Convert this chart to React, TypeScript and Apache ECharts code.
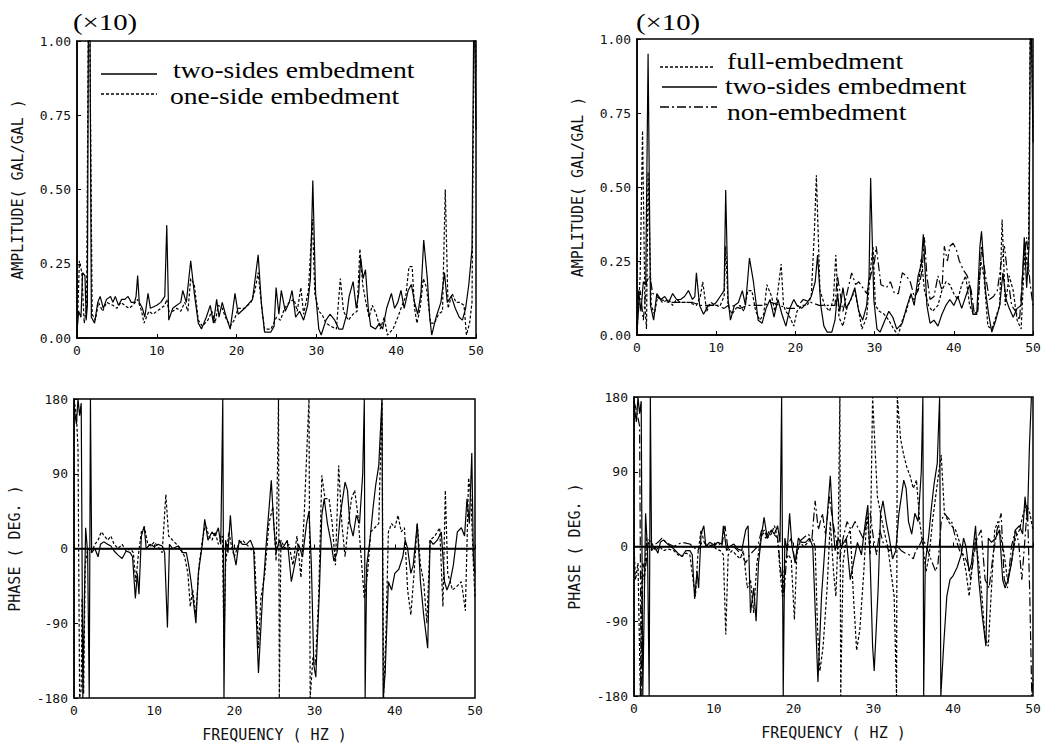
import React, { useEffect, useRef } from "react";
import * as echarts from "echarts";

// ---------- data (frequency Hz, value) ----------
const ampTwoSidesL = [[0,0.02],[0.2,0.09],[0.5,0.07],[0.7,0.22],[1.0,0.21],[1.15,0.06],[1.3,0.11],[1.45,1.2],[1.6,1.2],[1.8,0.07],[2.2,0.05],[2.6,0.12],[2.9,0.14],[3.3,0.1],[3.7,0.13],[4.2,0.14],[4.5,0.12],[4.8,0.14],[5.2,0.11],[5.6,0.13],[6.0,0.13],[6.4,0.14],[6.8,0.12],[7.2,0.12],[7.4,0.14],[7.6,0.21],[7.8,0.12],[8.2,0.1],[8.5,0.07],[8.9,0.15],[9.2,0.1],[10,0.11],[10.5,0.12],[11,0.14],[11.25,0.38],[11.5,0.06],[12,0.1],[12.5,0.11],[13,0.12],[13.25,0.16],[13.7,0.12],[14.25,0.26],[14.7,0.15],[15.2,0.05],[15.6,0.03],[16.2,0.07],[16.7,0.11],[17.1,0.05],[17.5,0.13],[17.8,0.07],[18.2,0.12],[18.6,0.08],[19.2,0.03],[19.8,0.15],[20.2,0.08],[21,0.1],[22,0.13],[22.7,0.28],[23.1,0.12],[23.5,0.02],[24.3,0.02],[24.7,0.04],[24.95,0.17],[25.3,0.08],[25.6,0.16],[26.1,0.09],[26.6,0.12],[26.95,0.16],[27.4,0.07],[27.9,0.09],[28.4,0.06],[28.9,0.11],[29.25,0.2],[29.55,0.53],[29.9,0.15],[30.3,0.03],[30.6,0.01],[31.2,0.06],[31.7,0.08],[32.3,0.06],[32.8,0.03],[33.3,0.03],[33.8,0.08],[34.1,0.14],[34.6,0.19],[35.0,0.1],[35.3,0.15],[35.55,0.27],[35.85,0.2],[36.15,0.23],[36.5,0.1],[36.8,0.04],[37.4,0.03],[37.9,0.05],[38.3,0.03],[38.8,0.1],[39.4,0.15],[39.8,0.1],[40.2,0.12],[40.6,0.16],[41.0,0.1],[41.5,0.16],[41.9,0.18],[42.3,0.12],[42.7,0.08],[43.1,0.15],[43.45,0.33],[43.9,0.2],[44.2,0.07],[44.45,0.01],[45.0,0.07],[45.6,0.12],[46.05,0.22],[46.4,0.12],[46.9,0.14],[47.4,0.1],[47.9,0.07],[48.3,0.06],[48.7,0.1],[49.1,0.18],[49.5,0.3],[49.75,1.2],[50,0.7]];
const ampOneSideL = [[0,0.0],[0.3,0.26],[0.6,0.22],[0.9,0.05],[1.2,0.1],[1.45,1.2],[1.55,1.2],[1.9,0.08],[2.3,0.06],[2.7,0.12],[3.2,0.09],[3.7,0.12],[4.5,0.11],[5.0,0.1],[5.5,0.12],[6.0,0.11],[6.5,0.1],[7.0,0.11],[7.6,0.13],[8.1,0.09],[8.4,0.05],[9.0,0.09],[9.5,0.08],[10,0.09],[10.5,0.1],[11.0,0.11],[11.25,0.13],[11.5,0.09],[12,0.09],[12.5,0.1],[13,0.09],[13.5,0.12],[13.9,0.09],[14.25,0.2],[14.7,0.18],[15.2,0.06],[15.7,0.04],[16.4,0.06],[16.9,0.09],[17.3,0.05],[17.7,0.11],[18.2,0.1],[18.6,0.07],[19.2,0.04],[19.7,0.06],[20.2,0.1],[21,0.1],[21.8,0.12],[22.3,0.16],[22.7,0.22],[23.2,0.09],[23.5,0.03],[24.3,0.03],[25,0.07],[25.5,0.06],[26,0.1],[26.6,0.12],[27.2,0.13],[27.6,0.09],[28.05,0.17],[28.4,0.08],[29.0,0.16],[29.5,0.4],[29.8,0.15],[30.3,0.09],[30.7,0.08],[31.2,0.05],[31.8,0.04],[32.5,0.03],[33.0,0.2],[33.4,0.09],[34.0,0.06],[34.6,0.08],[35.1,0.09],[35.45,0.3],[35.8,0.18],[36.2,0.12],[36.6,0.07],[37.0,0.11],[37.5,0.08],[38.0,0.03],[38.5,0.07],[38.9,0.01],[39.6,0.03],[40.2,0.07],[40.6,0.1],[41.2,0.14],[41.6,0.24],[42.0,0.24],[42.3,0.1],[42.6,0.05],[43.0,0.1],[43.4,0.2],[43.8,0.17],[44.3,0.05],[44.8,0.05],[45.3,0.08],[45.8,0.09],[46.15,0.5],[46.5,0.1],[47.0,0.15],[47.5,0.12],[48.0,0.12],[48.5,0.11],[48.8,0.01],[49.2,0.05],[49.5,0.12],[49.8,1.2],[50,0.9]];

const ampTwoSidesR = [[0,0.0],[0.2,0.15],[0.5,0.08],[0.8,0.18],[1.1,0.17],[1.4,0.95],[1.7,0.1],[2.1,0.05],[2.5,0.14],[3.0,0.12],[3.5,0.13],[4.0,0.11],[4.5,0.14],[5.0,0.12],[5.5,0.12],[6.0,0.13],[6.5,0.15],[7.0,0.12],[7.3,0.13],[7.5,0.21],[7.9,0.1],[8.4,0.07],[9.0,0.1],[9.5,0.1],[10.0,0.11],[10.5,0.13],[11.0,0.15],[11.2,0.49],[11.5,0.12],[11.8,0.05],[12.3,0.1],[12.8,0.11],[13.3,0.15],[13.7,0.1],[14.2,0.26],[14.7,0.18],[15.3,0.05],[15.8,0.04],[16.3,0.09],[16.8,0.12],[17.3,0.06],[17.8,0.12],[18.3,0.07],[18.8,0.03],[19.3,0.09],[19.8,0.12],[20.2,0.1],[20.8,0.09],[21.5,0.11],[22.0,0.13],[22.5,0.18],[22.8,0.27],[23.2,0.1],[23.6,0.03],[24.0,0.01],[24.6,0.01],[25.0,0.05],[25.3,0.14],[25.6,0.08],[26.0,0.16],[26.4,0.09],[27.0,0.12],[27.5,0.16],[28.0,0.08],[28.5,0.05],[29.0,0.1],[29.3,0.2],[29.5,0.53],[29.9,0.12],[30.3,0.02],[30.7,0.01],[31.3,0.05],[31.8,0.08],[32.3,0.06],[32.8,0.02],[33.5,0.04],[34.0,0.09],[34.6,0.14],[35.0,0.1],[35.5,0.2],[35.9,0.24],[36.15,0.34],[36.6,0.1],[37.0,0.04],[37.5,0.05],[38.0,0.03],[38.5,0.07],[39.0,0.1],[39.5,0.12],[40.0,0.1],[40.5,0.13],[41.0,0.09],[41.5,0.13],[42.0,0.17],[42.4,0.07],[42.9,0.07],[43.3,0.3],[43.5,0.35],[44.0,0.15],[44.4,0.07],[44.8,0.01],[45.3,0.05],[45.8,0.1],[46.2,0.21],[46.6,0.12],[47.0,0.09],[47.5,0.06],[48.0,0.09],[48.5,0.1],[48.9,0.33],[49.2,0.16],[49.5,0.3],[49.7,1.2],[50,0.65]];
const ampFullR = [[0,0.0],[0.4,0.2],[0.7,0.69],[1.0,0.1],[1.2,0.02],[1.4,0.55],[1.8,0.1],[2.2,0.07],[2.6,0.13],[3.2,0.11],[4.0,0.12],[4.5,0.1],[5.0,0.12],[5.5,0.11],[6.5,0.11],[7.5,0.1],[8.0,0.13],[8.3,0.18],[8.8,0.08],[9.3,0.11],[10,0.1],[10.5,0.1],[11.0,0.13],[11.2,0.3],[11.5,0.1],[12.0,0.07],[12.5,0.09],[13.0,0.1],[13.5,0.08],[14.0,0.15],[14.5,0.15],[15.0,0.08],[15.5,0.05],[16.0,0.07],[16.4,0.17],[17.0,0.13],[17.4,0.08],[17.8,0.15],[18.2,0.24],[18.5,0.1],[18.8,0.08],[19.3,0.06],[19.8,0.03],[20.2,0.08],[20.8,0.1],[21.5,0.1],[22.0,0.13],[22.4,0.35],[22.65,0.54],[23.1,0.15],[23.7,0.1],[24.3,0.08],[24.8,0.12],[25.1,0.27],[25.5,0.06],[26.0,0.03],[26.5,0.09],[27.0,0.12],[27.5,0.15],[28.0,0.08],[28.4,0.02],[29.0,0.06],[29.4,0.2],[29.8,0.3],[30.1,0.1],[30.6,0.08],[31.2,0.07],[31.8,0.05],[32.4,0.02],[33.0,0.0],[33.5,0.05],[34.0,0.08],[34.5,0.13],[35.0,0.12],[35.5,0.16],[35.9,0.26],[36.3,0.15],[36.8,0.1],[37.3,0.08],[38.0,0.1],[38.5,0.15],[39.0,0.18],[39.5,0.17],[40.0,0.14],[40.5,0.12],[41.0,0.17],[41.5,0.2],[42.0,0.1],[42.5,0.07],[43.0,0.08],[43.4,0.25],[43.8,0.2],[44.3,0.03],[44.8,0.02],[45.3,0.06],[45.8,0.1],[46.1,0.39],[46.5,0.1],[47.0,0.2],[47.5,0.15],[48.0,0.05],[48.5,0.02],[49.0,0.3],[49.4,0.2],[49.7,1.2],[50,0.7]];
const ampNonR = [[0,0.02],[0.4,0.15],[0.8,0.05],[1.2,0.18],[1.6,0.2],[2.0,0.14],[3,0.12],[4,0.11],[5,0.11],[6,0.11],[7,0.11],[8,0.1],[9,0.1],[10,0.1],[11,0.09],[11.5,0.1],[12,0.1],[13,0.09],[14,0.1],[15,0.1],[16,0.1],[17,0.11],[18,0.1],[19,0.09],[20,0.09],[21,0.12],[22,0.11],[23,0.1],[24,0.1],[25,0.1],[25.3,0.2],[25.6,0.15],[26,0.08],[26.5,0.14],[27.1,0.21],[27.6,0.17],[28.0,0.18],[28.5,0.16],[29.0,0.14],[29.5,0.2],[30.0,0.25],[30.2,0.3],[30.8,0.17],[31.5,0.16],[32.0,0.18],[32.5,0.14],[33.0,0.14],[33.5,0.21],[34.0,0.2],[34.5,0.18],[35.0,0.13],[35.5,0.15],[36.0,0.22],[36.3,0.33],[36.6,0.2],[37.0,0.12],[37.5,0.13],[38.0,0.2],[38.5,0.15],[38.8,0.3],[39.2,0.25],[39.5,0.3],[39.9,0.31],[40.3,0.29],[40.7,0.25],[41.2,0.22],[41.7,0.2],[42.2,0.15],[42.6,0.07],[43.0,0.07],[43.5,0.3],[44.0,0.2],[44.5,0.12],[45.0,0.13],[45.5,0.15],[46.0,0.25],[46.4,0.3],[46.8,0.2],[47.3,0.1],[47.8,0.08],[48.3,0.05],[48.8,0.25],[49.2,0.33],[49.6,0.18],[50,0.1]];

const phTwoSidesL = [[0,170],[0.3,150],[0.5,180],[0.7,160],[0.9,175],[1.1,-180],[1.3,-60],[1.45,25],[1.7,-5],[1.9,-180],[2.05,180],[2.2,-5],[2.6,0],[3.0,-10],[3.3,5],[3.7,8],[4.2,5],[4.6,3],[5.0,-3],[5.5,-8],[6.0,-12],[6.5,-3],[7.0,-5],[7.3,-10],[7.65,-60],[7.9,-30],[8.1,-55],[8.4,15],[8.75,27],[9.0,0],[9.5,5],[10,2],[10.5,5],[11.0,3],[11.3,-5],[11.65,-95],[11.9,5],[12.3,0],[13.0,3],[13.5,-5],[14.0,-5],[14.3,-20],[14.6,-40],[15.2,-90],[15.5,-30],[16.0,5],[16.3,35],[16.7,10],[17.2,20],[17.6,15],[18.0,25],[18.3,5],[18.55,180],[18.7,-180],[18.9,10],[19.2,-5],[19.5,40],[19.8,0],[20.2,-20],[20.6,10],[21.0,5],[21.5,5],[22.0,10],[22.4,0],[22.8,-100],[23.0,-150],[23.5,-60],[24.0,10],[24.6,82],[24.9,30],[25.2,-5],[25.6,10],[26.0,0],[26.6,10],[27.1,-40],[27.5,-20],[28.0,5],[28.5,-10],[29.0,30],[29.3,45],[29.6,-20],[29.9,-140],[30.15,-155],[30.6,-50],[30.9,40],[31.2,60],[31.6,30],[32.0,10],[32.4,-15],[32.8,-5],[33.2,40],[33.8,80],[34.1,70],[34.4,30],[34.8,15],[35.2,40],[35.6,30],[36.0,90],[36.2,180],[36.3,-180],[36.5,-20],[36.9,10],[37.3,50],[37.6,75],[38.0,100],[38.4,180],[38.55,-180],[38.8,-150],[39.2,-40],[39.6,-50],[40.0,-30],[40.5,-25],[41.0,-10],[41.3,10],[41.6,0],[42.0,-30],[42.3,-20],[42.8,30],[43.2,-40],[43.6,-80],[44.1,-120],[44.4,10],[44.8,5],[45.3,10],[45.8,20],[46.2,-40],[46.5,-50],[46.9,-40],[47.3,-20],[47.8,20],[48.3,25],[48.7,15],[49.0,60],[49.3,30],[49.6,115],[49.8,-10],[50,-30]];
const phOneSideL = [[0,180],[0.3,160],[0.5,120],[0.7,-180],[0.9,-170],[1.0,-60],[1.2,-175],[1.4,-20],[1.7,0],[2.2,-5],[2.6,5],[3.0,10],[3.4,20],[3.8,15],[4.2,10],[4.6,15],[5.0,5],[5.5,0],[6.0,5],[6.5,-3],[7.0,0],[7.4,-5],[7.7,-40],[8.0,-10],[8.4,20],[8.8,25],[9.2,5],[9.6,3],[10.0,8],[10.5,2],[11.0,-5],[11.45,65],[11.8,15],[12.3,10],[12.8,5],[13.3,0],[13.8,-10],[14.2,-30],[14.5,-70],[14.8,-50],[15.2,-80],[15.6,-20],[16.0,10],[16.4,30],[16.8,15],[17.2,10],[17.6,20],[18.0,5],[18.5,15],[18.7,-120],[18.9,-20],[19.3,20],[19.7,0],[20.0,-10],[20.5,5],[21.0,10],[21.5,5],[22.0,0],[22.5,-5],[23.0,-120],[23.3,-60],[23.8,-30],[24.3,30],[24.8,50],[25.2,-15],[25.5,180],[25.6,-180],[25.8,10],[26.3,0],[26.8,5],[27.3,-20],[27.8,15],[28.3,-35],[28.7,40],[29.3,180],[29.45,-180],[29.8,-130],[30.1,-140],[30.5,-60],[30.9,88],[31.3,60],[31.8,60],[32.2,30],[32.6,-20],[33.0,100],[33.4,30],[33.8,-10],[34.2,30],[34.6,60],[35.0,70],[35.4,40],[35.8,-10],[36.2,-60],[36.6,-30],[37.0,20],[37.5,25],[38.0,30],[38.4,180],[38.6,-180],[38.9,-100],[39.2,20],[39.6,30],[40.0,25],[40.4,40],[40.8,20],[41.2,25],[41.6,-50],[42.0,-80],[42.4,-30],[42.8,30],[43.2,-20],[43.6,-40],[44.0,-90],[44.4,10],[45.0,15],[45.6,25],[46.0,-70],[46.3,70],[46.6,-30],[47.2,-50],[47.8,-45],[48.3,-40],[48.8,-75],[49.2,85],[49.5,60],[49.8,-20],[50,-60]];

const phTwoSidesR = [[0,170],[0.3,150],[0.5,180],[0.7,160],[0.9,175],[1.1,-180],[1.3,-60],[1.45,40],[1.7,-5],[1.9,-180],[2.05,180],[2.2,-5],[2.6,0],[3.0,-8],[3.3,5],[3.7,8],[4.2,3],[4.6,0],[5.0,-3],[5.5,-8],[6.0,-12],[6.5,-5],[7.0,-5],[7.3,-10],[7.6,-63],[7.9,-30],[8.1,-50],[8.4,15],[8.75,25],[9.0,0],[9.5,5],[10,2],[10.5,5],[11.0,3],[11.2,25],[11.6,-5],[12.0,0],[12.5,3],[13.0,-3],[13.5,-5],[14.0,20],[14.3,25],[14.6,-80],[15.0,-50],[15.3,-90],[15.6,-20],[16.0,15],[16.3,35],[16.7,10],[17.2,20],[17.6,15],[18.0,25],[18.3,5],[18.5,180],[18.7,-180],[18.9,10],[19.2,-5],[19.5,40],[19.8,0],[20.2,-20],[20.6,10],[21.0,5],[21.5,5],[22.0,10],[22.4,0],[22.8,-100],[23.05,-163],[23.5,-60],[24.0,10],[24.6,85],[24.9,30],[25.2,-5],[25.6,10],[26.0,0],[26.6,10],[27.1,-40],[27.5,-20],[28.0,5],[28.5,-10],[29.0,30],[29.3,50],[29.6,-20],[29.9,-120],[30.1,-150],[30.6,-50],[30.9,40],[31.2,55],[31.6,30],[32.0,10],[32.4,-15],[32.8,-5],[33.2,40],[33.8,80],[34.1,70],[34.4,30],[34.8,15],[35.2,40],[35.6,30],[36.0,90],[36.2,180],[36.3,-180],[36.5,-20],[36.9,10],[37.3,50],[37.6,75],[38.0,100],[38.3,180],[38.45,-180],[38.8,-120],[39.2,-60],[39.6,-40],[40.0,-35],[40.5,-25],[41.0,-10],[41.3,10],[41.6,0],[42.0,-30],[42.3,-20],[42.8,25],[43.2,-40],[43.6,-80],[44.1,-120],[44.4,10],[44.8,5],[45.3,10],[45.8,20],[46.2,-40],[46.5,-50],[46.9,-40],[47.3,-20],[47.8,20],[48.3,25],[48.7,15],[49.0,60],[49.3,30],[49.55,120],[49.8,180]];
const phFullR = [[0,0],[0.2,-40],[0.5,-20],[0.8,-180],[1.0,-30],[1.3,-40],[1.6,10],[2.2,5],[2.7,-5],[3.2,0],[3.7,-5],[4.2,-3],[5,-5],[5.5,-10],[6.0,-12],[6.5,-8],[7.0,-10],[7.4,-40],[7.7,-60],[8.0,-10],[8.4,20],[8.8,5],[9.3,0],[9.8,2],[10.3,-3],[10.8,-5],[11.2,-10],[11.5,-106],[11.8,-10],[12.3,-5],[12.8,-10],[13.3,-15],[13.7,-5],[14.2,-50],[14.6,-40],[15.0,-80],[15.4,-20],[15.9,10],[16.3,20],[16.7,10],[17.2,15],[17.6,25],[18.0,10],[18.3,-30],[18.6,-60],[18.9,-20],[19.3,-10],[19.7,-15],[20.1,-88],[20.4,-10],[20.8,5],[21.3,0],[21.8,5],[22.3,10],[22.7,0],[23.0,-100],[23.3,-150],[23.7,-120],[24.2,-50],[24.6,30],[25.0,-30],[25.3,-60],[25.6,20],[25.8,180],[25.9,-180],[26.2,-20],[26.6,10],[27.1,20],[27.5,-60],[27.9,-125],[28.3,-100],[28.8,-30],[29.2,40],[29.6,-10],[29.9,180],[30.2,120],[30.5,60],[30.9,40],[31.3,20],[31.8,0],[32.2,-30],[32.6,-60],[32.9,-180],[33.0,180],[33.4,130],[33.8,110],[34.2,95],[34.6,85],[35.0,70],[35.4,80],[35.8,30],[36.2,0],[36.6,-30],[37.0,-10],[37.4,30],[37.8,60],[38.2,90],[38.5,110],[38.9,40],[39.4,30],[39.8,25],[40.3,20],[40.8,5],[41.2,-10],[41.6,-30],[42.0,-60],[42.4,-20],[42.8,10],[43.2,-20],[43.6,-60],[44.0,-110],[44.4,-120],[44.8,-50],[45.2,20],[45.6,30],[46.0,10],[46.4,-10],[46.8,-40],[47.3,-20],[47.8,10],[48.3,20],[48.8,40],[49.2,50],[49.6,40],[50,20]];
const phNonR = [[0,175],[0.4,160],[0.7,145],[0.9,-180],[1.1,-20],[1.4,-30],[1.8,5],[2.3,0],[3,5],[3.5,10],[4,5],[5,0],[6,5],[7,3],[8,-5],[8.5,5],[9,3],[10,0],[10.5,5],[11,0],[11.4,25],[11.8,-5],[12.5,0],[13,-5],[13.5,-10],[14,-20],[14.5,-10],[15,-5],[15.5,0],[16,20],[16.5,10],[17,20],[17.5,15],[18,10],[18.4,-30],[18.8,-60],[19.2,0],[19.7,10],[20.2,-20],[20.6,5],[21.2,10],[21.8,15],[22.3,10],[22.7,55],[23.1,20],[23.6,40],[24.0,15],[24.5,60],[24.9,30],[25.3,10],[25.8,-15],[26.2,10],[26.7,30],[27.2,20],[27.7,30],[28.2,20],[28.7,10],[29.2,30],[29.6,40],[30.0,10],[30.4,-10],[30.8,20],[31.2,5],[31.6,0],[32,-5],[32.5,-3],[33,0],[33.5,-5],[34,-8],[34.5,-10],[35,-15],[35.3,-5],[35.7,0],[36.2,10],[36.6,0],[37.0,-10],[37.4,-20],[37.8,-30],[38.1,-20],[38.5,30],[38.9,40],[39.3,35],[39.8,30],[40.3,10],[40.8,-5],[41.3,-10],[41.8,-20],[42.2,-40],[42.6,-10],[43,10],[43.5,20],[44,-40],[44.5,-50],[45,-10],[45.5,20],[46,40],[46.4,-40],[46.8,-50],[47.3,0],[47.8,20],[48.2,5],[48.6,-40],[49.0,10],[49.3,50],[49.6,-60],[49.85,-180],[50,-160]];

const freqTicks = [0, 10, 20, 30, 40, 50];
const ampTicks = [0, 0.25, 0.5, 0.75, 1.0];
const phaseTicks = [-180, -90, 0, 90, 180];

const legendLeft = ["two-sides embedment", "one-side embedment"];
const legendRight = ["full-embedment", "two-sides embedment", "non-embedment"];

const MONO = "DejaVu Sans Mono";
const SERIF = "Liberation Serif";
const DASH: any = [3, 2];
const DASHDOT: any = [9, 3, 2, 3];

export default function App() {
  const ref = useRef<HTMLDivElement>(null);
  useEffect(() => {
    if (!ref.current) return;
    const chart = echarts.init(ref.current, undefined, { renderer: "svg" });

    const grids = [
      { left: 77, top: 41, width: 399, height: 297 },
      { left: 637, top: 39, width: 396, height: 296 },
      { left: 74, top: 399, width: 401, height: 299 },
      { left: 634, top: 397, width: 399, height: 299 },
    ].map((g) => ({ ...g, show: true, borderColor: "#000", borderWidth: 1.5, backgroundColor: "transparent" }));

    const axisLabel = { color: "#111", fontFamily: MONO, fontSize: 13, margin: 6 };
    const xAxes = grids.map((_, i) => ({
      type: "value", gridIndex: i, min: freqTicks[0], max: freqTicks[freqTicks.length - 1], interval: 10,
      axisLine: { show: true, lineStyle: { color: "#000", width: 1.5 } },
      axisTick: { show: true, inside: true, length: 4, lineStyle: { color: "#000" } },
      splitLine: { show: false },
      axisLabel,
      name: i >= 2 ? "FREQUENCY ( HZ )" : "",
      nameLocation: "middle", nameGap: 29,
      nameTextStyle: { color: "#111", fontFamily: MONO, fontSize: 15 },
    }));
    const yAxes = grids.map((_, i) => {
      const amp = i < 2;
      const t = amp ? ampTicks : phaseTicks;
      return {
        type: "value", gridIndex: i, min: t[0], max: t[t.length - 1], interval: t[1] - t[0],
        axisLine: { show: true, lineStyle: { color: "#000", width: 1.5 } },
        axisTick: { show: true, inside: true, length: 4, lineStyle: { color: "#000" } },
        splitLine: { show: false },
        axisLabel: { ...axisLabel, formatter: (v: number) => (amp ? v.toFixed(2) : String(v)) },
        name: amp ? "AMPLITUDE( GAL/GAL )" : "PHASE ( DEG. )",
        nameLocation: "middle", nameGap: 52,
        nameTextStyle: { color: "#111", fontFamily: MONO, fontSize: 15 },
      };
    });

    const mk = (data: number[][], gi: number, type: any, zero = false): any => {
      const s: any = {
        type: "line", xAxisIndex: gi, yAxisIndex: gi, data, symbol: "none", silent: true,
        clip: true, lineStyle: { color: "#000", width: 1.2, type }, z: 3,
      };
      if (zero) {
        s.markLine = {
          silent: true, symbol: "none", label: { show: false },
          lineStyle: { color: "#000", type: "solid", width: 1.4 }, data: [{ yAxis: 0 }],
        };
      }
      return s;
    };

    const series = [
      mk(ampOneSideL, 0, DASH),
      mk(ampTwoSidesL, 0, "solid"),
      mk(ampNonR, 1, DASHDOT),
      mk(ampFullR, 1, DASH),
      mk(ampTwoSidesR, 1, "solid"),
      mk(phOneSideL, 2, DASH),
      mk(phTwoSidesL, 2, "solid", true),
      mk(phNonR, 3, DASHDOT),
      mk(phFullR, 3, DASH),
      mk(phTwoSidesR, 3, "solid", true),
    ];

    const legLine = (x1: number, x2: number, y: number, dash: any) => ({
      type: "line", shape: { x1, y1: y, x2, y2: y },
      style: { stroke: "#000", lineWidth: 1.3, lineDash: dash === "solid" ? null : dash },
    });
    const legText = (x: number, y: number, text: string) => ({
      type: "text", x, y, scaleX: 1.15,
      style: { text, fill: "#000", font: `24px "${SERIF}"`, textVerticalAlign: "middle", textAlign: "left" },
    });
    const timesTen = (x: number) => ({
      type: "text", x, y: 22, scaleX: 1.2,
      style: { text: "(×10)", fill: "#000", font: `24px "${SERIF}"`, textVerticalAlign: "middle", textAlign: "left" },
    });

    const graphic = [
      timesTen(73),
      timesTen(636),
      legLine(101, 157, 74, "solid"),
      legText(173, 70, legendLeft[0]),
      legLine(101, 157, 94, DASH),
      legText(170, 96, legendLeft[1]),
      legLine(660, 715, 67, DASH),
      legText(727, 61, legendRight[0]),
      legLine(662, 717, 87, "solid"),
      legText(725, 86, legendRight[1]),
      legLine(660, 717, 107, DASHDOT),
      legText(727, 112, legendRight[2]),
    ];

    chart.setOption({
      animation: false,
      backgroundColor: "#fff",
      grid: grids,
      xAxis: xAxes,
      yAxis: yAxes,
      series,
      graphic,
    });
    return () => chart.dispose();
  }, []);
  return <div ref={ref} style={{ position: "fixed", left: 0, top: 0, width: 1044, height: 744 }} />;
}
